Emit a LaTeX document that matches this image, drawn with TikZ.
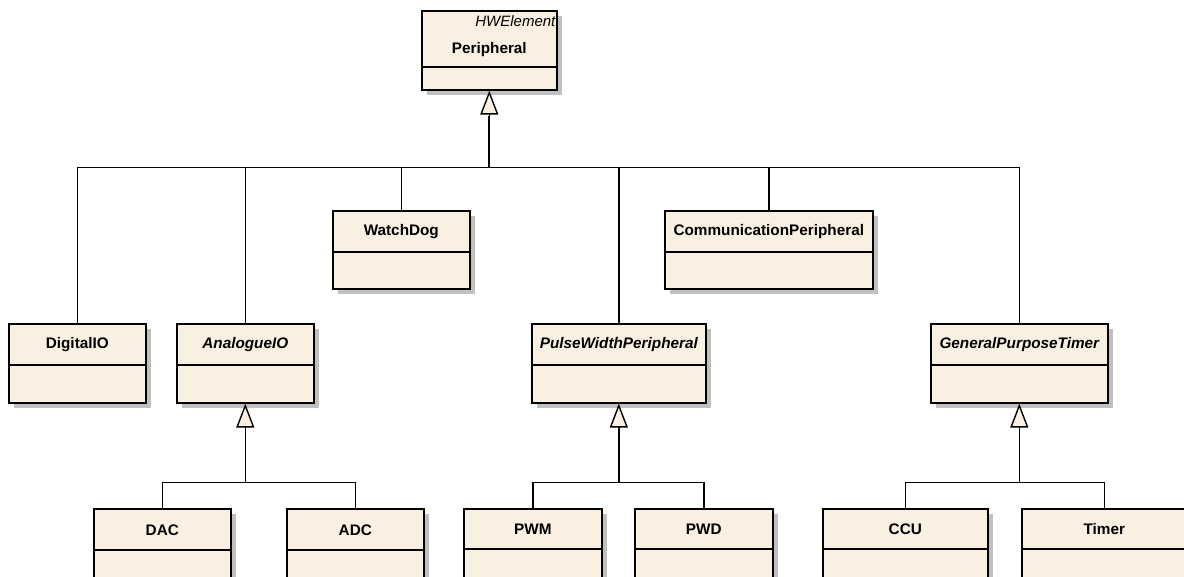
\documentclass[tikz,border=0pt]{standalone}
\usepackage{fontspec}
\setmainfont{Liberation Sans}
\usetikzlibrary{arrows.meta,shadows}

\definecolor{classfill}{RGB}{250,240,226}
\definecolor{shadowgray}{RGB}{192,192,192}

\tikzset{
	classbox/.style={draw=black, line width=1.6pt, fill=classfill, inner sep=0pt, anchor=north west,
		drop shadow={shadow xshift=5pt, shadow yshift=-5pt, fill=shadowgray, opacity=1}},
	classname/.style={font=\fontsize{15.3}{18}\selectfont\bfseries},
	namespace/.style={font=\fontsize{15}{18}\selectfont\itshape, inner sep=0pt},
	link/.style={line width=1.5pt},
	inherit/.style={line width=1.5pt,
		-{Triangle[length=24pt, width=18pt, fill=classfill, line width=1.4pt]}},
}

% class box: name, left, top, width, height, name compartment, label
\newcommand{\umlclass}[7]{%
	\node[classbox, minimum width=#4pt, minimum height=#5pt] (#1) at (#2,#3) {};
	\draw[link] ([yshift=-#6pt]#1.north west) -- ([yshift=-#6pt]#1.north east);
	\node[classname] (#1-name) at ([yshift=-#6pt/2-1pt]#1.north) {#7};
}

\begin{document}
\begin{tikzpicture}[x=1pt,y=-1pt]
	\clip (0,0) rectangle (1184,577);

	% Base class
	\node[classbox, minimum width=135pt, minimum height=79pt] (periph) at (421,10) {};
	\draw[link] ([yshift=-57pt]periph.north west) -- ([yshift=-57pt]periph.north east);
	\node[namespace, anchor=north east] (periph-ns) at ([xshift=-2pt,yshift=-5pt]periph.north east) {HWElement};
	\node[classname] (periph-name) at ([yshift=-40pt]periph.north) {Peripheral};

	% Second level
	\umlclass{digital}{8}{323}{137}{79}{42}{DigitalIO}
	\umlclass{analogue}{176}{323}{137}{79}{42}{\itshape AnalogueIO}
	\umlclass{watchdog}{332}{210}{137}{78}{42}{WatchDog}
	\umlclass{pulse}{531}{323}{174}{79}{42}{\itshape PulseWidthPeripheral}
	\umlclass{comm}{664}{210}{208}{78}{42}{CommunicationPeripheral}
	\umlclass{gptimer}{930}{323}{177}{79}{42}{\itshape GeneralPurposeTimer}

	% Third level
	\umlclass{dac}{93}{508}{137}{79}{42}{DAC}
	\umlclass{adc}{286}{508}{137}{79}{42}{ADC}
	\umlclass{pwm}{463}{508}{138}{79}{41}{PWM}
	\umlclass{pwd}{634}{508}{138}{79}{41}{PWD}
	\umlclass{ccu}{822}{508}{165}{79}{41}{CCU}
	\umlclass{timer}{1021}{508}{165}{79}{41}{Timer}

	% Generalisations
	\path (periph.south) ++(0,77) coordinate (top-join);
	\foreach \c in {digital,analogue,watchdog,pulse,comm,gptimer}
		\draw[link] (\c.north) |- (top-join);
	\draw[line width=1.8pt] (top-join) -- ++(0,-52) (digital.north |- top-join) -- (gptimer.north |- top-join);
	\draw[inherit] (top-join) -- (periph.south);

	\path (analogue.south) ++(0,79) coordinate (analogue-join);
	\draw[link] (dac.north) |- (analogue-join) -| (adc.north);
	\draw[inherit] (analogue-join) -- (analogue.south);

	\path (pulse.south) ++(0,79) coordinate (pulse-join);
	\draw[link] (pwm.north) |- (pulse-join) -| (pwd.north);
	\draw[inherit] (pulse-join) -- (pulse.south);

	\path (gptimer.south) ++(0,79) coordinate (gptimer-join);
	\draw[link] (ccu.north) |- (gptimer-join) -| (timer.north);
	\draw[inherit] (gptimer-join) -- (gptimer.south);

\end{tikzpicture}
\end{document}
